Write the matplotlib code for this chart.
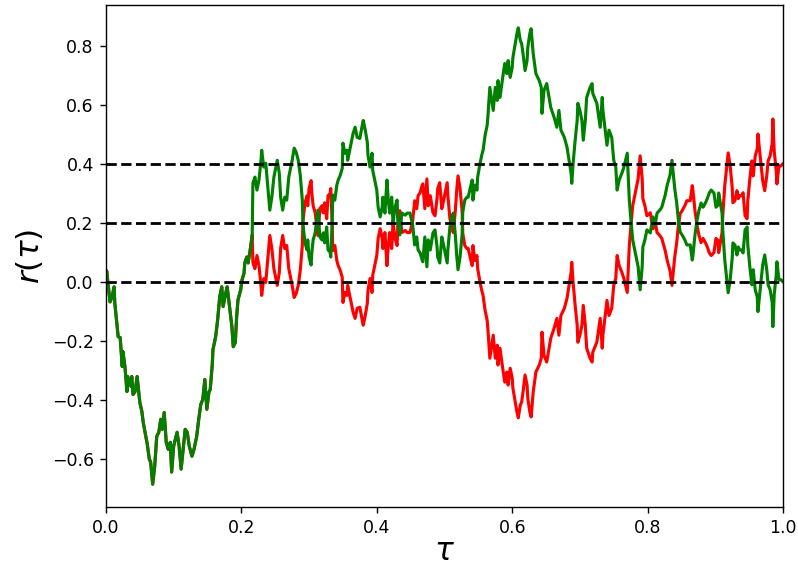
import numpy as np
import matplotlib
matplotlib.use("Agg")
import matplotlib.pyplot as plt

# Sample times of the path
tau = [
    0.000, 0.001, 0.004, 0.006, 0.009, 0.012, 0.013, 0.018, 0.021, 0.024,
    0.025, 0.028, 0.031, 0.032, 0.037, 0.038, 0.040, 0.043, 0.046, 0.050,
    0.053, 0.055, 0.061, 0.064, 0.066, 0.069, 0.072, 0.075, 0.078, 0.081,
    0.083, 0.086, 0.089, 0.092, 0.095, 0.097, 0.100, 0.105, 0.108, 0.111,
    0.114, 0.117, 0.120, 0.123, 0.127, 0.130, 0.134, 0.137, 0.140, 0.143,
    0.146, 0.149, 0.152, 0.154, 0.157, 0.158, 0.162, 0.165, 0.168, 0.171,
    0.173, 0.177, 0.179, 0.183, 0.186, 0.188, 0.191, 0.193, 0.195, 0.199,
    0.201, 0.204, 0.205, 0.208, 0.210, 0.213, 0.216, 0.217, 0.220, 0.223,
    0.226, 0.229, 0.230, 0.233, 0.236, 0.239, 0.242, 0.245, 0.248, 0.253,
    0.256, 0.258, 0.261, 0.264, 0.267, 0.270, 0.275, 0.278, 0.281, 0.284,
    0.287, 0.290, 0.291, 0.294, 0.297, 0.298, 0.300, 0.303, 0.304, 0.306,
    0.309, 0.312, 0.313, 0.316, 0.319, 0.321, 0.323, 0.326, 0.328, 0.331,
    0.332, 0.334, 0.335, 0.338, 0.341, 0.343, 0.346, 0.349, 0.350, 0.353,
    0.356, 0.357, 0.360, 0.363, 0.365, 0.368, 0.371, 0.375, 0.378, 0.380,
    0.383, 0.386, 0.387, 0.390, 0.393, 0.394, 0.397, 0.400, 0.402, 0.405,
    0.408, 0.409, 0.412, 0.415, 0.417, 0.419, 0.422, 0.424, 0.427, 0.430,
    0.431, 0.434, 0.437, 0.442, 0.445, 0.449, 0.453, 0.456, 0.459, 0.461,
    0.464, 0.467, 0.468, 0.471, 0.474, 0.476, 0.479, 0.482, 0.483, 0.486,
    0.489, 0.490, 0.493, 0.496, 0.498, 0.501, 0.504, 0.505, 0.508, 0.511,
    0.513, 0.516, 0.518, 0.520, 0.523, 0.526, 0.527, 0.530, 0.533, 0.535,
    0.538, 0.541, 0.542, 0.545, 0.548, 0.549, 0.552, 0.555, 0.557, 0.560,
    0.563, 0.564, 0.567, 0.572, 0.575, 0.578, 0.579, 0.582, 0.586, 0.589,
    0.592, 0.594, 0.597, 0.600, 0.601, 0.604, 0.607, 0.609, 0.612, 0.614,
    0.616, 0.619, 0.622, 0.623, 0.626, 0.628, 0.631, 0.635, 0.640, 0.643,
    0.644, 0.647, 0.651, 0.654, 0.657, 0.662, 0.666, 0.669, 0.672, 0.677,
    0.681, 0.684, 0.687, 0.688, 0.690, 0.693, 0.696, 0.697, 0.700, 0.703,
    0.705, 0.708, 0.710, 0.715, 0.718, 0.719, 0.725, 0.730, 0.733, 0.734,
    0.740, 0.743, 0.747, 0.750, 0.753, 0.755, 0.758, 0.762, 0.765, 0.770,
    0.771, 0.773, 0.775, 0.778, 0.781, 0.784, 0.786, 0.789, 0.792, 0.793,
    0.796, 0.799, 0.804, 0.808, 0.811, 0.814, 0.818, 0.821, 0.826, 0.829,
    0.833, 0.836, 0.840, 0.843, 0.845, 0.848, 0.851, 0.855, 0.858, 0.863,
    0.866, 0.867, 0.870, 0.873, 0.876, 0.879, 0.882, 0.886, 0.889, 0.891,
    0.894, 0.898, 0.901, 0.904, 0.905, 0.910, 0.911, 0.914, 0.917, 0.919,
    0.922, 0.925, 0.926, 0.929, 0.932, 0.934, 0.936, 0.939, 0.941, 0.944,
    0.947, 0.948, 0.951, 0.954, 0.956, 0.959, 0.962, 0.963, 0.966, 0.970,
    0.973, 0.976, 0.978, 0.981, 0.984, 0.985, 0.987, 0.990, 0.991, 0.994,
    0.997, 1.000,
]

# Reflected path (drawn in green)
reflected = [
    0.000, 0.037, -0.027, -0.068, -0.051, -0.017, -0.071, -0.186, -0.189, -0.287,
    -0.236, -0.287, -0.372, -0.321, -0.355, -0.321, -0.382, -0.372, -0.321, -0.409,
    -0.439, -0.476, -0.551, -0.601, -0.611, -0.686, -0.625, -0.524, -0.510, -0.466,
    -0.500, -0.443, -0.544, -0.568, -0.544, -0.645, -0.557, -0.510, -0.557, -0.635,
    -0.568, -0.500, -0.510, -0.557, -0.591, -0.568, -0.524, -0.466, -0.416, -0.399,
    -0.331, -0.432, -0.375, -0.365, -0.280, -0.230, -0.186, -0.128, -0.051, -0.017,
    -0.084, -0.037, -0.017, -0.095, -0.152, -0.220, -0.206, -0.118, -0.061, -0.027,
    0.007, 0.030, 0.064, 0.084, 0.064, 0.108, 0.159, 0.334, 0.355, 0.311,
    0.345, 0.412, 0.446, 0.389, 0.402, 0.321, 0.243, 0.287, 0.355, 0.412,
    0.368, 0.287, 0.243, 0.287, 0.277, 0.355, 0.412, 0.453, 0.439, 0.412,
    0.361, 0.277, 0.193, 0.132, 0.108, 0.142, 0.084, 0.057, 0.098, 0.142,
    0.166, 0.226, 0.243, 0.152, 0.142, 0.166, 0.132, 0.186, 0.108, 0.101,
    0.084, 0.193, 0.294, 0.277, 0.328, 0.345, 0.361, 0.385, 0.470, 0.436,
    0.446, 0.412, 0.446, 0.480, 0.503, 0.524, 0.490, 0.486, 0.524, 0.547,
    0.514, 0.473, 0.429, 0.389, 0.436, 0.378, 0.345, 0.311, 0.253, 0.220,
    0.253, 0.287, 0.233, 0.345, 0.277, 0.233, 0.287, 0.199, 0.253, 0.277,
    0.209, 0.159, 0.233, 0.226, 0.233, 0.233, 0.193, 0.125, 0.152, 0.108,
    0.098, 0.074, 0.068, 0.152, 0.051, 0.142, 0.108, 0.152, 0.166, 0.176,
    0.118, 0.084, 0.064, 0.152, 0.132, 0.098, 0.064, 0.108, 0.186, 0.220,
    0.233, 0.159, 0.091, 0.041, 0.084, 0.159, 0.236, 0.277, 0.287, 0.287,
    0.318, 0.345, 0.277, 0.328, 0.311, 0.355, 0.395, 0.429, 0.446, 0.497,
    0.530, 0.557, 0.659, 0.581, 0.659, 0.615, 0.682, 0.625, 0.693, 0.740,
    0.706, 0.750, 0.693, 0.726, 0.760, 0.801, 0.841, 0.861, 0.818, 0.807,
    0.774, 0.716, 0.750, 0.794, 0.841, 0.858, 0.774, 0.706, 0.682, 0.659,
    0.571, 0.649, 0.672, 0.632, 0.591, 0.557, 0.524, 0.581, 0.514, 0.490,
    0.456, 0.412, 0.368, 0.334, 0.402, 0.480, 0.547, 0.605, 0.581, 0.547,
    0.480, 0.547, 0.625, 0.659, 0.672, 0.639, 0.605, 0.524, 0.625, 0.581,
    0.463, 0.514, 0.490, 0.412, 0.389, 0.311, 0.345, 0.368, 0.389, 0.436,
    0.378, 0.277, 0.220, 0.142, 0.108, 0.074, 0.051, -0.027, 0.051, 0.118,
    0.142, 0.176, 0.166, 0.220, 0.193, 0.233, 0.243, 0.253, 0.294, 0.328,
    0.361, 0.412, 0.318, 0.267, 0.220, 0.169, 0.159, 0.142, 0.125, 0.125,
    0.074, 0.091, 0.159, 0.209, 0.243, 0.267, 0.253, 0.270, 0.287, 0.301,
    0.311, 0.301, 0.253, 0.260, 0.301, 0.233, 0.176, 0.074, 0.007, -0.037,
    0.007, 0.081, 0.132, 0.125, 0.091, 0.118, 0.108, 0.108, 0.098, 0.176,
    0.186, 0.125, 0.051, -0.010, 0.041, -0.027, -0.051, -0.101, -0.034, 0.057,
    0.091, 0.041, -0.010, -0.027, -0.068, -0.152, -0.044, 0.024, 0.068, 0.007,
    0.007, 0.000,
]

barrier = 0.2
levels = [0.0, 0.2, 0.4]

tau = np.asarray(tau)
reflected = np.asarray(reflected)

# The original path coincides with the reflected one until it first reaches
# the barrier, after which it is the mirror image about the barrier.
hit = int(np.argmax(reflected >= barrier))
original = reflected.copy()
original[hit:] = 2 * barrier - reflected[hit:]

fig = plt.figure(figsize=(798 / 125, 571 / 125), dpi=125)
ax = fig.add_axes([0.1328, 0.1121, 0.8484, 0.8791])

ax.plot(tau, original, color="red", lw=1.8)
ax.plot(tau, reflected, color="green", lw=1.8)
for lev in levels:
    ax.axhline(lev, color="black", ls="--", lw=1.6)

ax.set_xlim(0, 1)
ax.set_xticks([0.0, 0.2, 0.4, 0.6, 0.8, 1.0])
ax.set_yticks([-0.6, -0.4, -0.2, 0.0, 0.2, 0.4, 0.6, 0.8])
ax.set_xlabel(r"$\tau$", fontsize=18, labelpad=0)
ax.set_ylabel(r"$r(\tau)$", fontsize=18)

fig.savefig("out.png", dpi=125)
